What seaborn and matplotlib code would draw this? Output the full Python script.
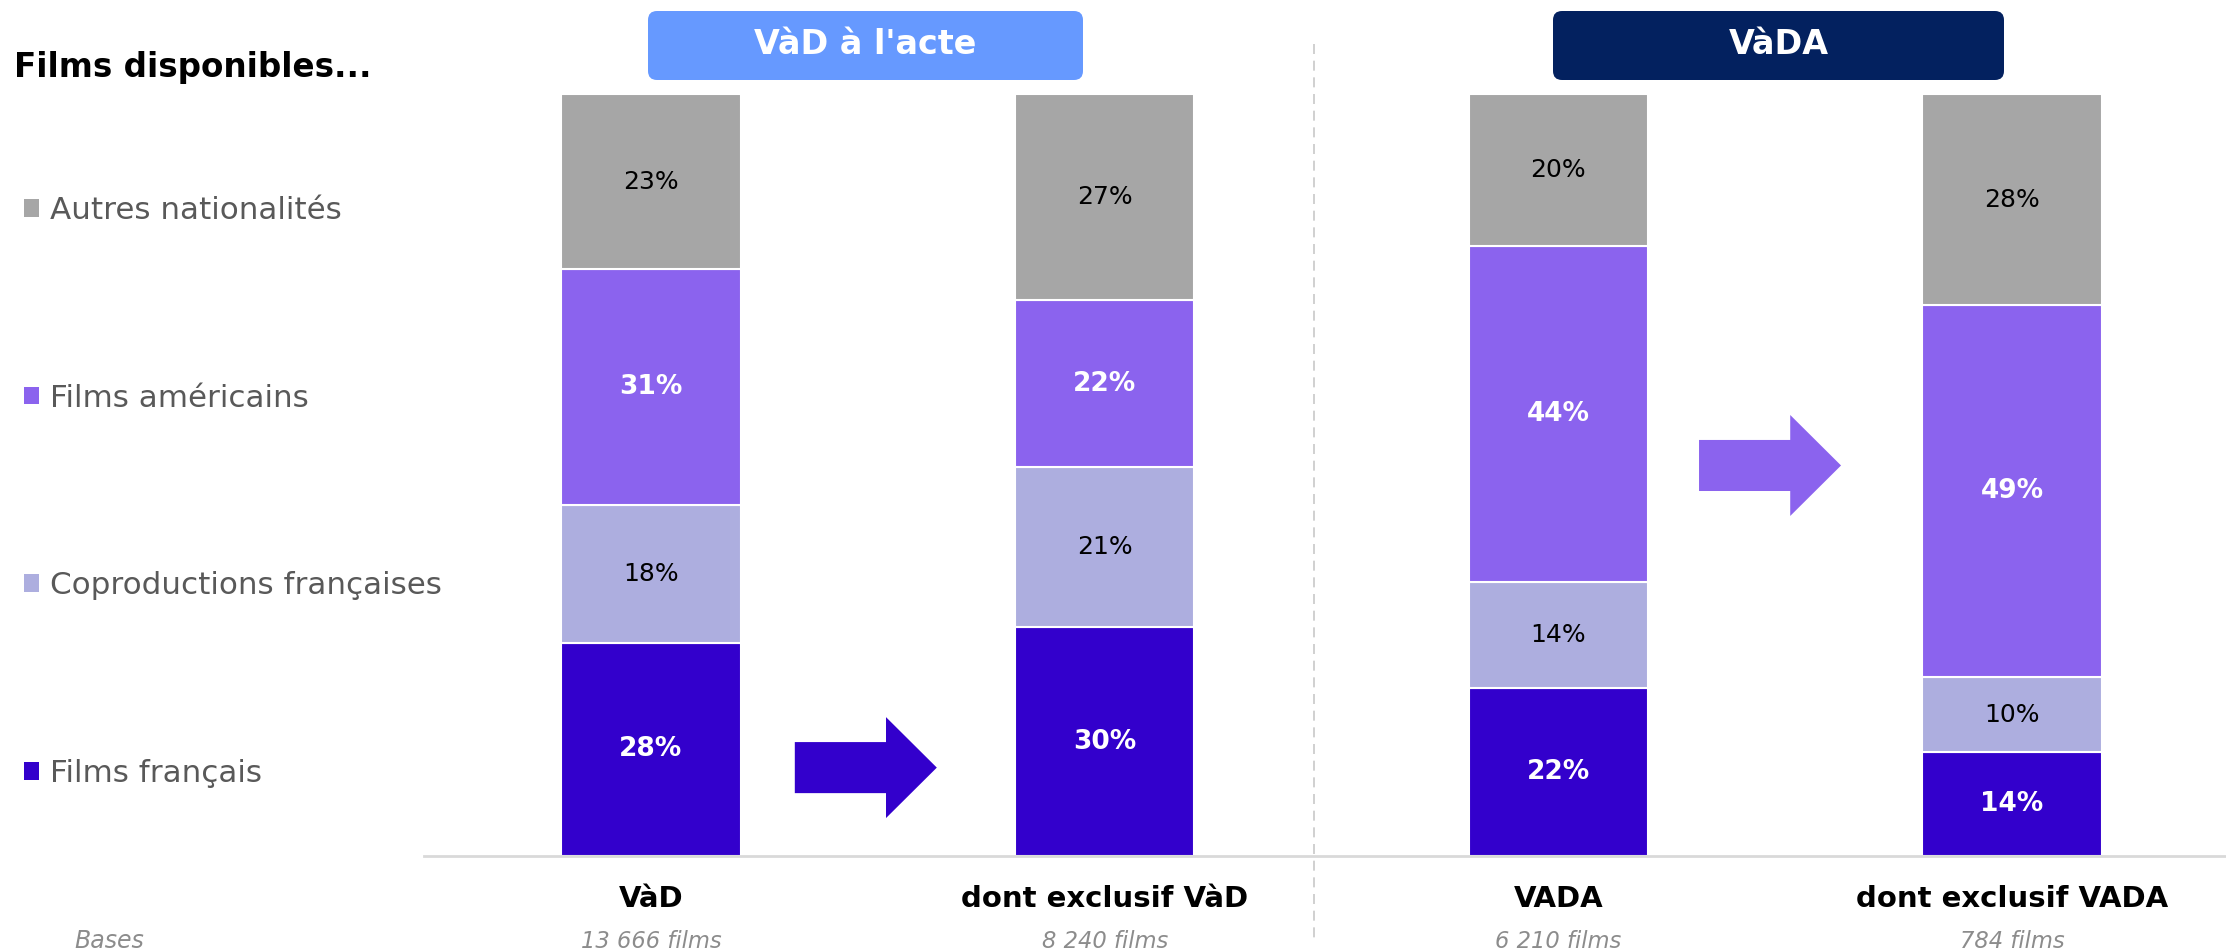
import numpy as np
import pandas as pd
import matplotlib
matplotlib.use("Agg")
import matplotlib.pyplot as plt
import seaborn as sns
from matplotlib.patches import FancyBboxPatch, FancyArrow, Patch
from matplotlib.lines import Line2D

# ---------------- data ----------------
categories = ["VàD", "dont exclusif VàD", "VADA", "dont exclusif VADA"]
bases = ["13 666 films", "8 240 films", "6 210 films", "784 films"]
series = ["Films français", "Coproductions françaises", "Films américains", "Autres nationalités"]
films_francais = [28, 30, 22, 13.6]
coproductions = [18, 21, 14, 9.9]
films_americains = [31, 22, 44, 48.8]
autres = [23, 27, 20, 27.7]
groups = ["VàD à l'acte", "VàDA"]

# ---------------- style ----------------
colors = ["#3300CC", "#ADAEDF", "#8B63EE", "#A6A6A6"]
label_colors = ["white", "black", "white", "black"]
label_weights = ["bold", "normal", "bold", "normal"]
label_sizes = [19, 18, 19, 18]
group_colors = ["#6699FF", "#03215F"]

sns.set_theme(style="white")
plt.rcParams['font.family'] = ['DejaVu Sans']

W, H = 2226, 952
fig = plt.figure(figsize=(W / 100, H / 100), dpi=100)
ax = fig.add_axes([424 / W, (H - 856) / H, 1 - 424 / W, 762 / H])

values = [films_francais, coproductions, films_americains, autres]
bottom = np.zeros(len(categories))
for name, vals, col, lc, lw, ls in zip(series, values, colors, label_colors,
                                       label_weights, label_sizes):
    vals = np.asarray(vals, dtype=float)
    df = pd.DataFrame({"categorie": categories, "part": vals})
    sns.barplot(data=df, x="categorie", y="part", bottom=bottom, color=col,
                width=0.395, edgecolor="white", linewidth=1.5, errorbar=None,
                saturation=1, ax=ax)
    for i, v in enumerate(vals):
        ax.text(i, bottom[i] + v / 2, f"{v:.0f}%", ha="center", va="center",
                color=lc, fontsize=ls, fontweight=lw)
    bottom = bottom + vals

ax.set_xlim(-0.5003, 3.4715)
ax.set_ylim(0, 100)
ax.set_xticks([])
ax.set_yticks([])
ax.set_xlabel("")
ax.set_ylabel("")
for s in ["top", "right", "left"]:
    ax.spines[s].set_visible(False)
ax.spines["bottom"].set_color("#D9D9D9")
ax.spines["bottom"].set_linewidth(2)

# category labels and bases
for i, (cat, b) in enumerate(zip(categories, bases)):
    ax.text(i, (856 - 899) / 7.62, cat, ha="center", va="center", fontsize=21,
            fontweight="bold", color="black", clip_on=False)
    ax.text(i, (856 - 948) / 7.62, b, ha="center", va="baseline", fontsize=16.3,
            style="italic", color="#8C8C8C", clip_on=False)
fig.text(74 / W, 4 / H, "Bases", ha="left", va="baseline", fontsize=17,
         style="italic", color="#8C8C8C")

# arrows
ax.add_patch(FancyArrow(0.317, 11.6, 0.313, 0, width=6.7, head_width=13.25,
                        head_length=0.112, length_includes_head=True,
                        color=colors[0], lw=0))
ax.add_patch(FancyArrow(2.310, 51.25, 0.313, 0, width=6.7, head_width=13.25,
                        head_length=0.112, length_includes_head=True,
                        color=colors[2], lw=0))

# title
fig.text(14 / W, (H - 68) / H, "Films disponibles...", ha="left", va="center",
         fontsize=23.5, fontweight="bold", color="black")

# group header boxes
boxes = [(648, 1083), (1553, 2004)]
for (x0, x1), g, gc in zip(boxes, groups, group_colors):
    p = FancyBboxPatch((x0 / 100, (H - 80) / 100), (x1 - x0) / 100, 0.69,
                       boxstyle="round,pad=0,rounding_size=0.09",
                       transform=fig.dpi_scale_trans, facecolor=gc,
                       edgecolor="none")
    fig.patches.append(p)
    fig.text((x0 + x1) / 2 / W, (H - 45) / H, g, ha="center", va="center",
             fontsize=24, fontweight="bold", color="white")

# dashed separator
fig.add_artist(Line2D([1314 / W, 1314 / W], [(H - 44) / H, (H - 940) / H],
                      transform=fig.transFigure, color="#C8C8C8", lw=1.2,
                      linestyle=(0, (6, 4))))

# legend
handles = [Patch(facecolor=c, edgecolor="none") for c in colors][::-1]
fig.legend(handles, series[::-1], loc="upper left",
           bbox_to_anchor=(24 / W, (H - 196) / H), frameon=False,
           fontsize=22.3, labelcolor="#595959", handlelength=0.5,
           handleheight=0.5, handletextpad=0.35, labelspacing=5.12,
           borderpad=0, borderaxespad=0)

fig.savefig("out.png", dpi=100)
